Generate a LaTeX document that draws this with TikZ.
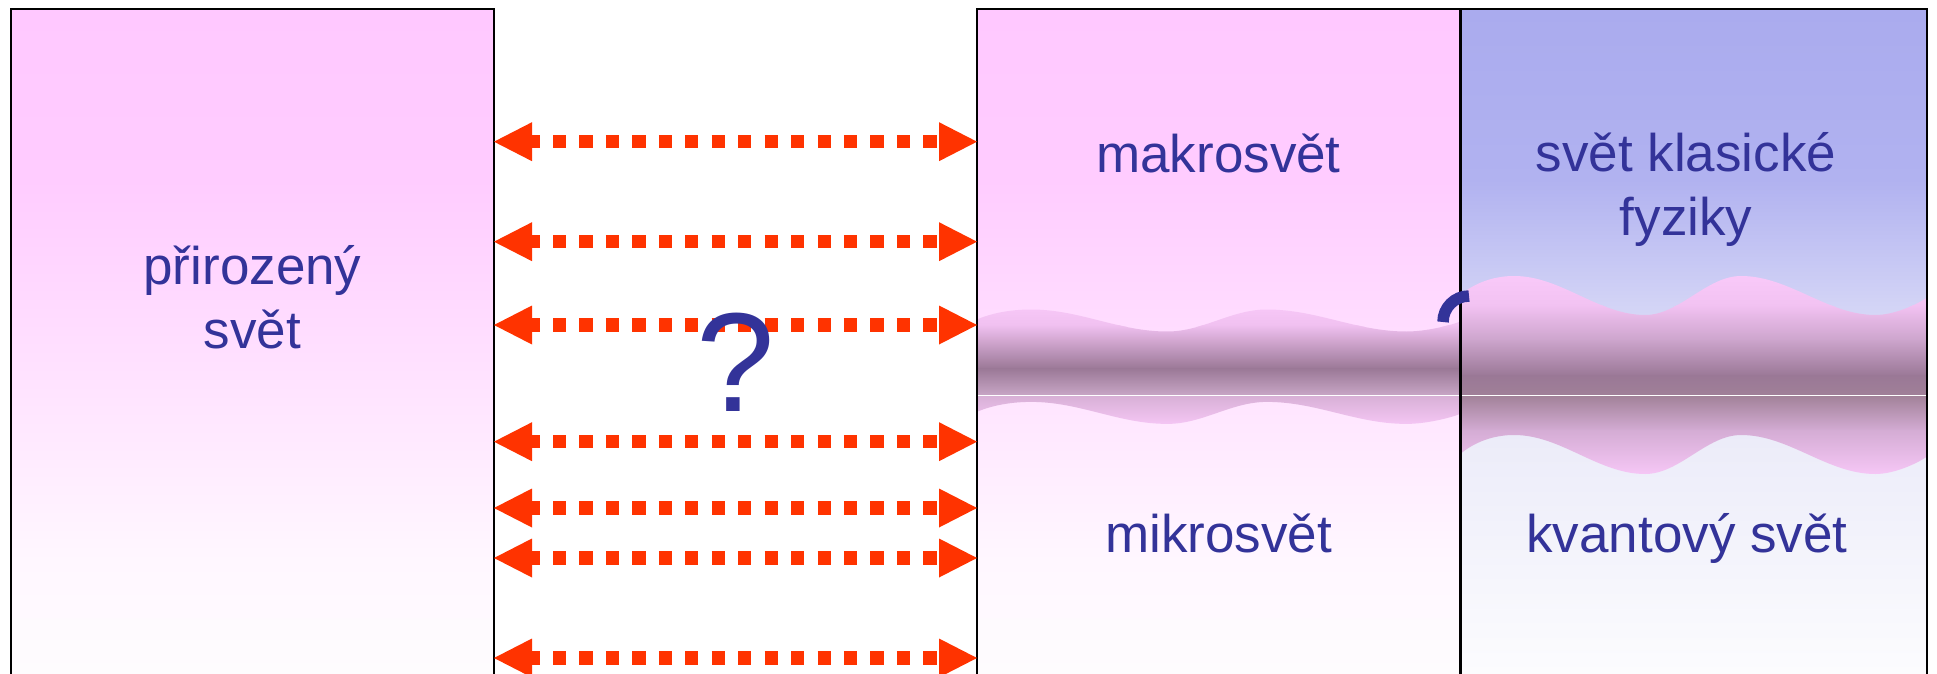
\documentclass[tikz,border=0pt]{standalone}
\usepackage{fontspec}
\setmainfont{Liberation Sans}
\usetikzlibrary{arrows.meta}
\definecolor{txtblue}{HTML}{333399}
\definecolor{arrowred}{HTML}{FF3300}
\definecolor{pk0}{HTML}{FFC8FF}
\definecolor{pk1}{HTML}{FFCCFF}
\definecolor{pk2}{HTML}{FFF7FF}
\definecolor{pk3}{HTML}{FEFCFE}
\definecolor{bl0}{HTML}{AAABEE}
\definecolor{bl1}{HTML}{B1B2F0}
\definecolor{bl2}{HTML}{D4D5F6}
\definecolor{bl3}{HTML}{ECECF9}
\definecolor{bl4}{HTML}{FCFCFE}
\definecolor{bandpink}{HTML}{FACAFA}
\definecolor{bandpinkb}{HTML}{F0C0F0}
\definecolor{bandpinkc}{HTML}{F2C2F2}
\definecolor{bandmidr}{HTML}{CCA4CC}
\definecolor{banddark}{HTML}{9A7896}
\definecolor{bandlowm}{HTML}{C8A6C6}
\definecolor{bandlowr}{HTML}{A08098}
\definecolor{bandrefm}{HTML}{D8B0D6}
\definecolor{bandrefr}{HTML}{A28299}
\definecolor{bandrefr2}{HTML}{D4ACD4}
% band between a wavy top edge and the same edge shifted down
% #1 = left x, #2 = width, #3 = mean y of top wave, #4 = amplitude, #5 = shift
\newcommand\wavyclip[5]{%
 \clip ({#1},{-#3+0.1*#4})
  .. controls ({#1+0.035*#2},{-#3+0.75*#4}) and ({#1+0.075*#2},{-#3+#4}) .. ({#1+0.112*#2},{-#3+#4})
  .. controls ({#1+0.2135*#2},{-#3+#4}) and ({#1+0.2925*#2},{-#3-#4}) .. ({#1+0.394*#2},{-#3-#4})
  .. controls ({#1+0.468*#2},{-#3-#4}) and ({#1+0.526*#2},{-#3+#4}) .. ({#1+0.600*#2},{-#3+#4})
  .. controls ({#1+0.704*#2},{-#3+#4}) and ({#1+0.785*#2},{-#3-#4}) .. ({#1+0.889*#2},{-#3-#4})
  .. controls ({#1+0.93*#2},{-#3-#4}) and ({#1+0.98*#2},{-#3-0.45*#4}) .. ({#1+#2},{-#3-0.1*#4})
  -- ({#1+#2},{-#3-#5-0.1*#4})
  .. controls ({#1+0.98*#2},{-#3-#5-0.45*#4}) and ({#1+0.93*#2},{-#3-#5-#4}) .. ({#1+0.889*#2},{-#3-#5-#4})
  .. controls ({#1+0.785*#2},{-#3-#5-#4}) and ({#1+0.704*#2},{-#3-#5+#4}) .. ({#1+0.600*#2},{-#3-#5+#4})
  .. controls ({#1+0.526*#2},{-#3-#5+#4}) and ({#1+0.468*#2},{-#3-#5-#4}) .. ({#1+0.394*#2},{-#3-#5-#4})
  .. controls ({#1+0.2925*#2},{-#3-#5-#4}) and ({#1+0.2135*#2},{-#3-#5+#4}) .. ({#1+0.112*#2},{-#3-#5+#4})
  .. controls ({#1+0.075*#2},{-#3-#5+#4}) and ({#1+0.035*#2},{-#3-#5+0.75*#4}) .. ({#1},{-#3-#5+0.1*#4})
  -- cycle;}
% pink vertical gradient fill of a box between x=#1 and x=#2
\newcommand\pinkfill[2]{%
 \shade[top color=pk0, bottom color=pk1] (#1,-9) rectangle (#2,-181);
 \shade[top color=pk1, bottom color=pk2] (#1,-180) rectangle (#2,-561);
 \shade[top color=pk2, bottom color=pk3] (#1,-560) rectangle (#2,-674);}
\newcommand\bluefill[2]{%
 \shade[top color=bl0, bottom color=bl1] (#1,-9) rectangle (#2,-181);
 \shade[top color=bl1, bottom color=bl2] (#1,-180) rectangle (#2,-311);
 \shade[top color=bl2, bottom color=bl3] (#1,-310) rectangle (#2,-441);
 \shade[top color=bl3, bottom color=bl4] (#1,-440) rectangle (#2,-674);}
\begin{document}
\begin{tikzpicture}[x=1pt,y=1pt,
  box/.style={inner sep=0pt, outer sep=0pt, anchor=north west, minimum height=720pt},
  border/.style={draw=black, line width=2pt},
  label/.style={text=txtblue, font=\fontsize{53}{64}\selectfont, align=center, anchor=base, inner sep=0pt},
  qmark/.style={text=txtblue, font=\fontsize{141}{141}\selectfont, anchor=base, inner sep=0pt},
  link/.style={draw=arrowred, line width=13.2pt, dash pattern=on 13.2pt off 13.25pt, dash phase=5.45pt,
    >={Triangle[length=38pt,width=39pt,line width=0pt]}, <->},
  whiteline/.style={draw=white, line width=1.5pt}]
\useasboundingbox (0,0) rectangle (1937,-674);
\clip (0,0) rectangle (1937,-674);
\fill[white] (0,0) rectangle (1937,-674);
% box fills
\pinkfill{11}{494}
\pinkfill{977}{1460}
\bluefill{1461}{1927}
% boxes (named shapes)
\node[box, minimum width=483pt] (L) at (11,-9) {};
\node[box, minimum width=483pt] (M) at (977,-9) {};
\node[box, minimum width=466pt] (R) at (1461,-9) {};
% middle band
\begin{scope}
 \wavyclip{977}{483}{320.5}{11}{92.4}
 \shade[top color=bandpink, bottom color=bandpinkb] (977,-300) rectangle (1460,-326);
 \shade[top color=bandpinkb, bottom color=banddark] (977,-325) rectangle (1460,-369);
 \shade[top color=banddark, bottom color=bandlowm] (977,-368) rectangle (1460,-395.7);
 \shade[top color=bandrefm, bottom color=bandpink] (977,-395.7) rectangle (1460,-430);
 \draw[whiteline] (977,-395.7) -- (1460,-395.7);
\end{scope}
% right band
\begin{scope}
 \wavyclip{1462}{465}{295.5}{19.5}{159}
 \shade[top color=bandpink, bottom color=bandpinkc] (1461,-270) rectangle (1927,-306);
 \shade[top color=bandpinkc, bottom color=bandmidr] (1461,-305) rectangle (1927,-341);
 \shade[top color=bandmidr, bottom color=banddark] (1461,-340) rectangle (1927,-376);
 \shade[top color=banddark, bottom color=bandlowr] (1461,-375) rectangle (1927,-395.7);
 \shade[top color=bandrefr, bottom color=bandrefr2] (1461,-395.7) rectangle (1927,-431);
 \shade[top color=bandrefr2, bottom color=bandpink] (1461,-430) rectangle (1927,-480);
 \draw[whiteline] (1461,-395.7) -- (1927,-395.7);
\end{scope}
% borders
\draw[border] (L.south west) -- (L.north west) -- (L.north east) -- (L.south east);
\draw[border] (M.south west) -- (M.north west) -- (M.north east) -- (M.south east);
\draw[border] (R.south west) -- (R.north west) -- (R.north east) -- (R.south east);
% arc fragment
\draw[txtblue, line width=11.5pt] (1443,-322) arc[start angle=180, end angle=90, radius=26];
% connectors
\foreach \yy in {141.7,241.7,325,441.7,508,558,658}
  \draw[link] (L.east |- 0,-\yy) -- (M.west |- 0,-\yy);
% texts (anchor base = baseline of the last line)
\node[label] (tL) at (252.5,-348) {přirozený\\svět};
\node[label] (tMa) at (1218.5,-172) {makrosvět};
\node[label] (tKl) at (1686,-235) {svět klasické\\fyziky};
\node[label] (tMi) at (1218.5,-552) {mikrosvět};
\node[label] (tKv) at (1687,-552) {kvantový svět};
\node[qmark] (q) at (735.5,-411) {?};
\end{tikzpicture}
\end{document}
